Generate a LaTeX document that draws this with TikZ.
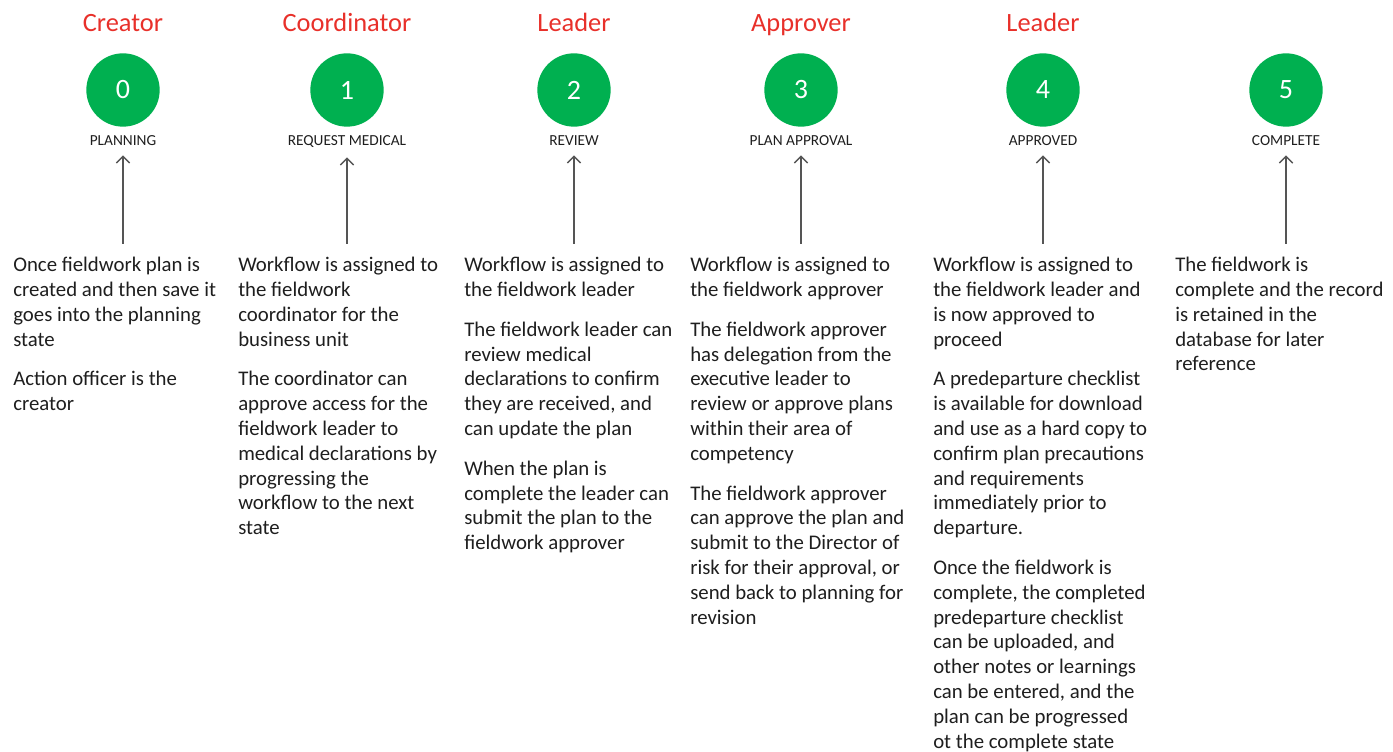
\documentclass[tikz,border=0pt]{standalone}
\usepackage{fontspec}
\setmainfont{Carlito}
\usetikzlibrary{arrows.meta}
\definecolor{rolered}{HTML}{E8302A}
\definecolor{stagegreen}{HTML}{00B050}
\definecolor{ink}{HTML}{1E1E1E}
\definecolor{arrowgray}{HTML}{555555}
\tikzset{
  role/.style={anchor=base, inner sep=0pt, text=rolered, font=\fontsize{19.8}{23}\selectfont},
  stage/.style={circle, fill=stagegreen, minimum size=55pt, inner sep=0pt, text=white, font=\fontsize{21}{25}\selectfont},
  statelbl/.style={anchor=base, inner sep=0pt, text=ink, font=\fontsize{11.5}{13}\selectfont},
  note/.style={anchor=north west, inner sep=0pt, align=left, text=ink, font=\fontsize{15.6}{18.6}\selectfont},
  uparrow/.style={draw=arrowgray, line width=1.1pt, -{Straight Barb[length=5pt,width=10pt]}, shorten >=6.75pt},
}
\begin{document}
\begin{tikzpicture}[x=0.75pt, y=-0.75pt]
  \useasboundingbox (0,0) rectangle (1393,752);

  % roles
  \node[role] (r0) at (123,32) {Creator};
  \node[role] (r1) at (347,32) {Coordinator};
  \node[role] (r2) at (574,32) {Leader};
  \node[role] (r3) at (801,32) {Approver};
  \node[role] (r4) at (1043,32) {Leader};

  % workflow states
  \node[stage] (c0) at (123,90) {0};
  \node[stage] (c1) at (347,90) {1};
  \node[stage] (c2) at (574,90) {2};
  \node[stage] (c3) at (801,90) {3};
  \node[stage] (c4) at (1043,90) {4};
  \node[stage] (c5) at (1286,90) {5};

  \node[statelbl] (s0) at (123,146) {PLANNING};
  \node[statelbl] (s1) at (347,146) {REQUEST MEDICAL};
  \node[statelbl] (s2) at (574,146) {REVIEW};
  \node[statelbl] (s3) at (801,146) {PLAN APPROVAL};
  \node[statelbl] (s4) at (1043,146) {APPROVED};
  \node[statelbl] (s5) at (1286,146) {COMPLETE};

  % arrow feet
  \coordinate (b0) at (123,244);
  \coordinate (b1) at (347,244);
  \coordinate (b2) at (574,244);
  \coordinate (b3) at (801,244);
  \coordinate (b4) at (1043,244);
  \coordinate (b5) at (1286,244);

  \draw[uparrow] (b0) -- (s0);
  \draw[uparrow] (b1) -- (s1);
  \draw[uparrow] (b2) -- (s2);
  \draw[uparrow] (b3) -- (s3);
  \draw[uparrow] (b4) -- (s4);
  \draw[uparrow] (b5) -- (s5);

  % descriptions
  \node[note] (n0) at (13,257) {
    Once fieldwork plan is\\
    created and then save it\\
    goes into the planning\\
    state\\[11.25pt]
    Action officer is the\\
    creator};
  \node[note] (n1) at (238,257) {
    Workflow is assigned to\\
    the fieldwork\\
    coordinator for the\\
    business unit\\[11.25pt]
    The coordinator can\\
    approve access for the\\
    fieldwork leader to\\
    medical declarations by\\
    progressing the\\
    workflow to the next\\
    state};
  \node[note] (n2) at (464,257) {
    Workflow is assigned to\\
    the fieldwork leader\\[11.25pt]
    The fieldwork leader can\\
    review medical\\
    declarations to confirm\\
    they are received, and\\
    can update the plan\\[11.25pt]
    When the plan is\\
    complete the leader can\\
    submit the plan to the\\
    fieldwork approver};
  \node[note] (n3) at (690,257) {
    Workflow is assigned to\\
    the fieldwork approver\\[11.25pt]
    The fieldwork approver\\
    has delegation from the\\
    executive leader to\\
    review or approve plans\\
    within their area of\\
    competency\\[11.25pt]
    The fieldwork approver\\
    can approve the plan and\\
    submit to the Director of\\
    risk for their approval, or\\
    send back to planning for\\
    revision};
  \node[note] (n4) at (933,257) {
    Workflow is assigned to\\
    the fieldwork leader and\\
    is now approved to\\
    proceed\\[11.25pt]
    A predeparture checklist\\
    is available for download\\
    and use as a hard copy to\\
    confirm plan precautions\\
    and requirements\\
    immediately prior to\\
    departure.\\[11.25pt]
    Once the fieldwork is\\
    complete, the completed\\
    predeparture checklist\\
    can be uploaded, and\\
    other notes or learnings\\
    can be entered, and the\\
    plan can be progressed\\
    ot the complete state};
  \node[note] (n5) at (1175,257) {
    The fieldwork is\\
    complete and the record\\
    is retained in the\\
    database for later\\
    reference};
\end{tikzpicture}
\end{document}
